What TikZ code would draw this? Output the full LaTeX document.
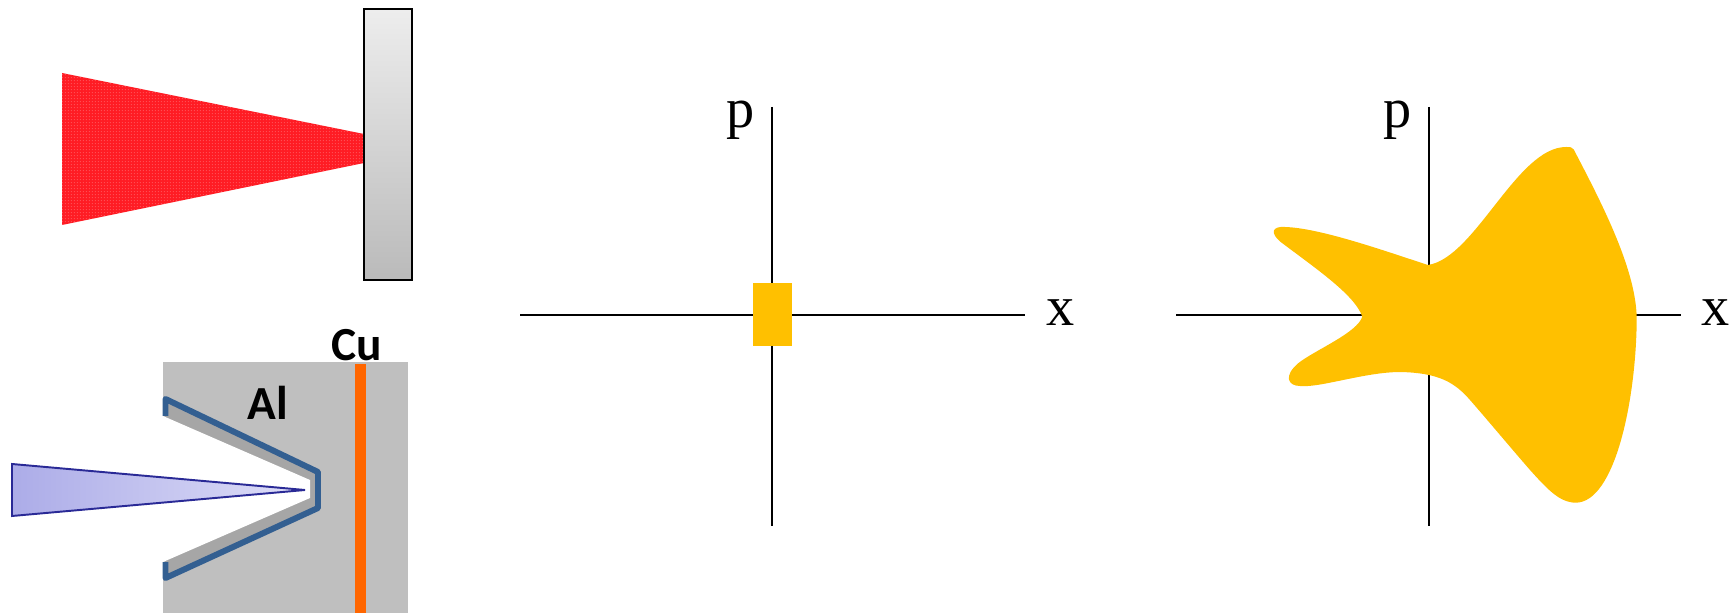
\documentclass[tikz,border=0pt]{standalone}
\usepackage{fontspec}
\setmainfont{Liberation Serif}
\newfontfamily\labelfont{Carlito}
\usetikzlibrary{patterns.meta}
\definecolor{blobyellow}{HTML}{FFC000}
\definecolor{blockgray}{HTML}{BFBFBF}
\definecolor{conegray}{HTML}{A6A6A6}
\definecolor{coneblue}{HTML}{335F91}
\definecolor{beamblue}{HTML}{2A2A96}
\definecolor{beamleft}{HTML}{ACACE8}
\definecolor{beamright}{HTML}{DEDEF7}
\definecolor{copperorange}{HTML}{FF6600}
\definecolor{laserred}{HTML}{FF1C24}
\tikzset{
  axisline/.style={line width=0.43pt},
  axislabel/.style={font=\fontsize{16}{19}\selectfont, inner sep=0pt},
  metallabel/.style={font=\labelfont\bfseries\fontsize{13.5}{16}\selectfont, inner sep=0pt}
}
\begin{document}
\begin{tikzpicture}[x=0.01cm, y=-0.01cm]
  \useasboundingbox (0,0) rectangle (1731,613);
  % laser on foil
  \fill[laserred] (62,73) -- (364,134) -- (364,163) -- (62,225) -- cycle;
  \fill[pattern={Dots[radius=0.14pt,distance=0.9pt]}, pattern color=white!60!laserred]
    (62,73) -- (364,134) -- (364,163) -- (62,225) -- cycle;
  \draw[line width=0.6pt, top color=black!7, bottom color=black!27] (364,9) rectangle (412,280);
  % cone target
  \fill[blockgray] (163,362) rectangle (408,613);
  \fill[copperorange] (355,364) rectangle (366,613);
  \fill[conegray] (165,399) -- (318,472) -- (318,508) -- (165,578) -- cycle;
  \fill[white] (163,416) -- (310,480) -- (310,498) -- (163,562) -- cycle;
  \draw[coneblue, line width=1.7pt, line join=round] (165.5,416) -- (165.5,399) -- (318,472)
    -- (318,508) -- (165.5,578) -- (165.5,562);
  \draw[beamblue, line width=0.55pt, left color=beamleft, right color=beamright]
    (12,464) -- (305,490) -- (12,516) -- cycle;
  \node[metallabel] (al) at (268,403) {Al};
  \node[metallabel] (cu) at (357,345) {Cu};
  % first phase space
  \coordinate (pleft) at (520,315);
  \coordinate (pright) at (1025,315);
  \coordinate (ptop) at (772,107);
  \coordinate (pbottom) at (772,526);
  \draw[axisline] (pleft) -- (pright);
  \draw[axisline] (ptop) -- (pbottom);
  \fill[blobyellow] (753,283) rectangle (792,346);
  \node[axislabel] (pone) at (741,120) {p};
  \node[axislabel] (xone) at (1061,313) {x};
  % second phase space
  \coordinate (qleft) at (1176,315);
  \coordinate (qright) at (1681,315);
  \coordinate (qtop) at (1429,107);
  \coordinate (qbottom) at (1429,526);
  \draw[axisline] (qleft) -- (qright);
  \draw[axisline] (qtop) -- (qbottom);
  \fill[blobyellow] (1573.6,149.3) .. controls (1600,200) and (1637,270) .. (1636.7,320)
    .. controls (1636,400) and (1615,502) .. (1576,502.7)
    .. controls (1560,502.7) and (1548,490) .. (1530,470)
    .. controls (1510,447) and (1490,423) .. (1470,400)
    .. controls (1455,383) and (1440,373) .. (1400.5,372)
    .. controls (1365,372) and (1320,388) .. (1300,386)
    .. controls (1288,386) and (1283,376) .. (1298.5,363)
    .. controls (1315,350) and (1357,333) .. (1362.3,316.7)
    .. controls (1355,295) and (1315,268) .. (1280.3,241.7)
    .. controls (1270,233) and (1272,226) .. (1285,227)
    .. controls (1320,228) and (1385,251) .. (1427.9,265)
    .. controls (1475,258) and (1517,147) .. (1566,147)
    .. controls (1570,147) and (1572,147) .. (1573.6,149.3) -- cycle;
  \node[axislabel] (ptwo) at (1398,120) {p};
  \node[axislabel] (xtwo) at (1716,313) {x};
\end{tikzpicture}
\end{document}
